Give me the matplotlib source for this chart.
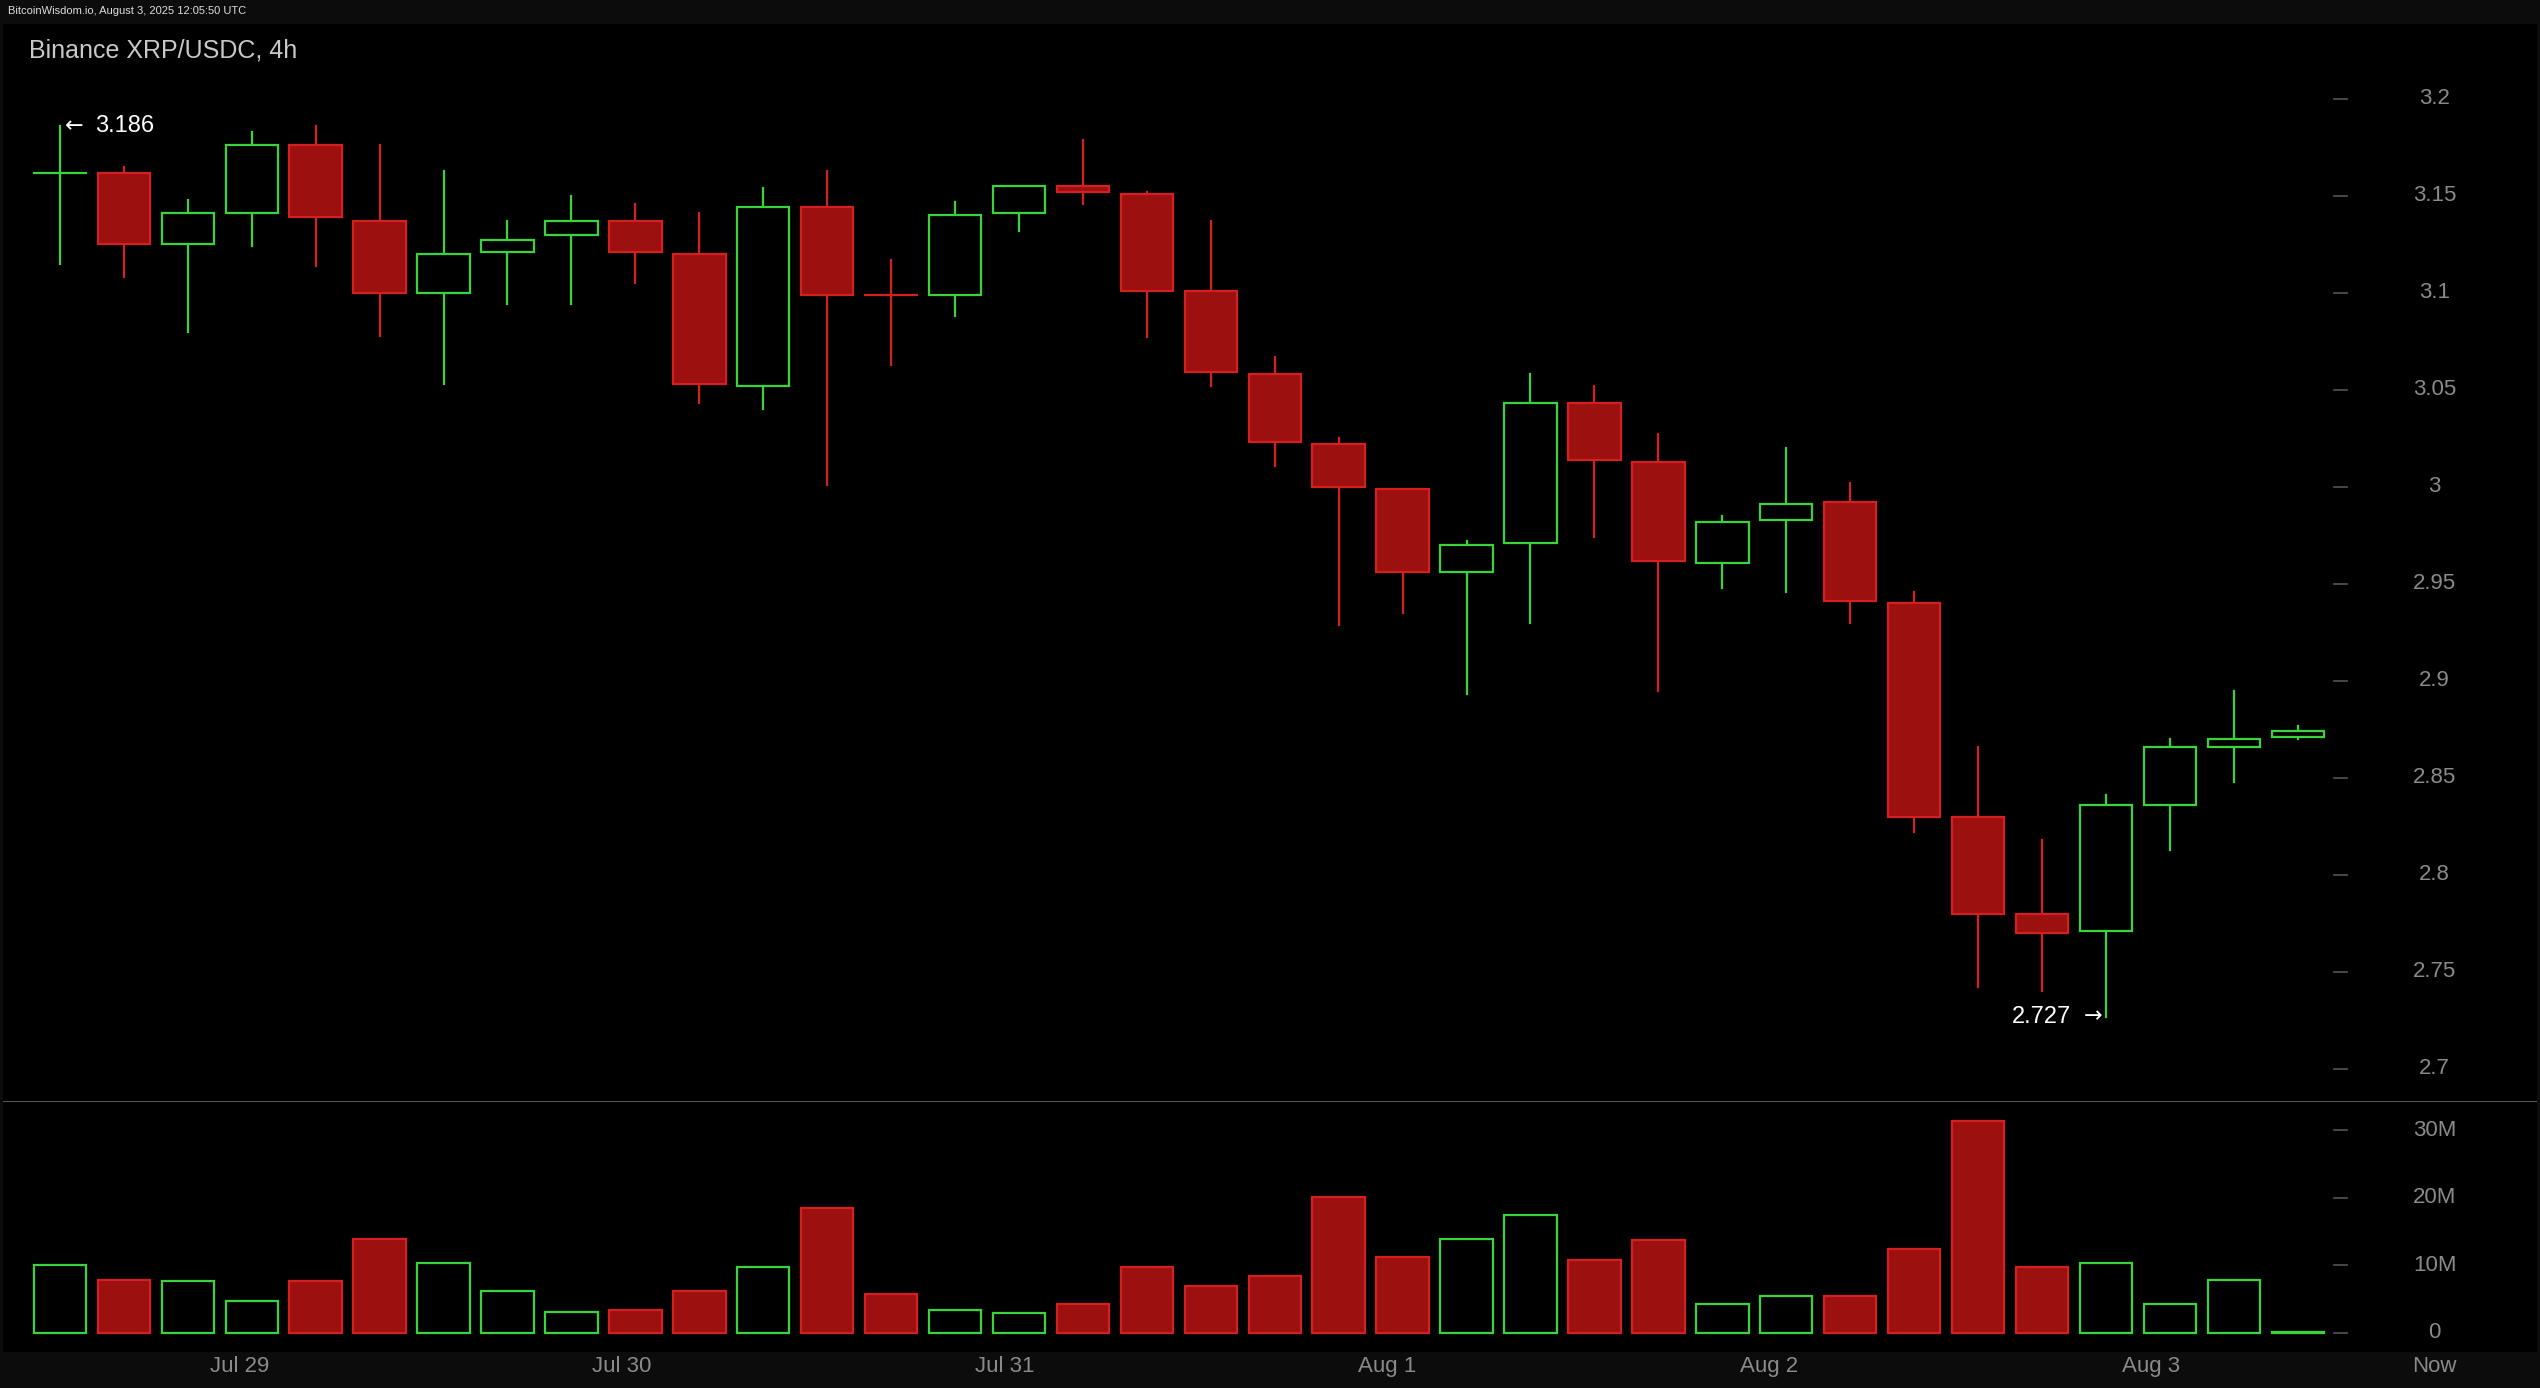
import matplotlib
matplotlib.use("Agg")
import matplotlib.pyplot as plt
from matplotlib.patches import Rectangle

opens  = [3.162,3.162,3.125,3.141,3.176,3.137,3.100,3.121,3.130,3.137,3.120,3.052,3.144,3.099,3.099,3.141,3.155,3.151,3.101,3.058,3.022,2.999,2.956,2.971,3.043,3.013,2.961,2.983,2.992,2.940,2.830,2.780,2.771,2.836,2.866,2.871]
closes = [3.162,3.125,3.141,3.176,3.139,3.100,3.120,3.127,3.137,3.121,3.053,3.144,3.099,3.098,3.140,3.155,3.152,3.101,3.059,3.023,3.000,2.956,2.970,3.043,3.014,2.962,2.982,2.991,2.941,2.830,2.780,2.770,2.836,2.866,2.870,2.874]
highs  = [3.186,3.165,3.148,3.183,3.186,3.176,3.163,3.137,3.150,3.146,3.141,3.154,3.163,3.117,3.147,3.155,3.179,3.152,3.137,3.067,3.025,2.999,2.972,3.058,3.052,3.027,2.985,3.020,3.002,2.946,2.866,2.818,2.841,2.870,2.895,2.877]
lows   = [3.115,3.108,3.080,3.124,3.114,3.078,3.053,3.094,3.094,3.105,3.043,3.040,3.001,3.063,3.088,3.132,3.146,3.077,3.052,3.011,2.929,2.935,2.893,2.930,2.974,2.895,2.948,2.946,2.930,2.822,2.742,2.740,2.727,2.813,2.848,2.870]
up     = [1,0,1,1,0,0,1,1,1,0,0,1,0,0,1,1,0,0,0,0,0,0,1,1,0,0,1,1,0,0,0,0,1,1,1,1]
volumes= [10.1,7.9,7.7,4.8,7.7,13.9,10.3,6.2,3.1,3.4,6.2,9.8,18.5,5.8,3.4,2.9,4.3,9.8,7.0,8.4,20.2,11.3,13.9,17.5,10.8,13.7,4.3,5.5,5.5,12.5,31.4,9.8,10.3,4.3,7.9,0.2]
date_labels = ["Jul 29","Jul 30","Jul 31","Aug 1","Aug 2","Aug 3","Now"]
date_pos = [2.81,8.79,14.77,20.75,26.73,32.71,37.14]
price_ticks = [2.7,2.75,2.8,2.85,2.9,2.95,3.0,3.05,3.1,3.15,3.2]
price_tick_labels = ["2.7","2.75","2.8","2.85","2.9","2.95","3","3.05","3.1","3.15","3.2"]
vol_ticks = [0,10,20,30]
vol_tick_labels = ["0","10M","20M","30M"]

W, H = 1568, 857
SP = 39.47
fig = plt.figure(figsize=(25.4, 13.88), dpi=100, facecolor="#0c0c0c")
def rect(x0, y0, x1, y1):
    return [x0/W, 1-y1/H, (x1-x0)/W, (y1-y0)/H]

GREEN = "#3ad43a"; RED_E = "#d42020"; RED_F = "#9c1010"
TICKC = "#8a8a8a"
fam = "Liberation Sans"

xl = ((2-37)/SP, (1566-37)/SP)
axp = fig.add_axes(rect(2, 15, 1566, 680), facecolor="black")
axv = fig.add_axes(rect(2, 680, 1566, 835), facecolor="black")
for ax in (axp, axv):
    ax.set_xlim(*xl)
    ax.set_xticks([]); ax.set_yticks([])
    for s in ax.spines.values():
        s.set_visible(False)
axp.set_ylim(2.6833, 3.2384)
axv.set_ylim(-2.88, 34.3)
axv.axhline(34.3, color="#555555", lw=1.5)

bw = 0.82
for i in range(len(opens)):
    o, c, h, l = opens[i], closes[i], highs[i], lows[i]
    col = GREEN if up[i] else RED_E
    top, bot = max(o, c), min(o, c)
    axp.plot([i, i], [top, h], color=col, lw=1.6, zorder=1)
    axp.plot([i, i], [l, bot], color=col, lw=1.6, zorder=1)
    if top - bot < 0.0015:
        axp.plot([i-bw/2, i+bw/2], [o, o], color=col, lw=1.6)
        axp.plot([i, i], [bot, top], color=col, lw=1.6)
    else:
        axp.add_patch(Rectangle((i-bw/2, bot), bw, top-bot,
                                facecolor="black" if up[i] else RED_F,
                                edgecolor=col, lw=1.6, zorder=2))
    axv.add_patch(Rectangle((i-bw/2, 0), bw, volumes[i],
                            facecolor="black" if up[i] else RED_F,
                            edgecolor=col, lw=1.6))

tx = (1503-37)/SP
tk = ((1441-37)/SP, (1449-37)/SP)
for t, s in zip(price_ticks, price_tick_labels):
    axp.plot(tk, [t, t], color="#555555", lw=1.2)
    axp.text(tx, t, s, color=TICKC, fontsize=16, family=fam, ha="center", va="center")
for t, s in zip(vol_ticks, vol_tick_labels):
    axv.plot(tk, [t, t], color="#555555", lw=1.2)
    axv.text(tx, t, s, color=TICKC, fontsize=16, family=fam, ha="center", va="center")
for p, s in zip(date_pos, date_labels):
    fig.text((37+SP*p)/W, 1-844/H, s, color=TICKC, fontsize=16, family=fam, ha="center", va="center")

afam = ["DejaVu Sans"]
axp.text(0.07, 3.186, "←", color="white", fontsize=16, family=afam, ha="left", va="center")
axp.text(0.55, 3.186, "3.186", color="white", fontsize=17, family=fam, ha="left", va="center")
axp.text(31.95, 2.727, "→", color="white", fontsize=16, family=afam, ha="right", va="center")
axp.text(31.45, 2.727, "2.727", color="white", fontsize=17, family=fam, ha="right", va="center")
fig.text(18/W, 1-31/H, "Binance XRP/USDC, 4h", color="#c8c8c8", fontsize=18, family=fam, ha="left", va="center")
fig.text(5/W, 1-7/H, "BitcoinWisdom.io, August 3, 2025 12:05:50 UTC", color="#dddddd", fontsize=8, family=fam, ha="left", va="center")

fig.savefig("out.png", dpi=100, facecolor=fig.get_facecolor())
